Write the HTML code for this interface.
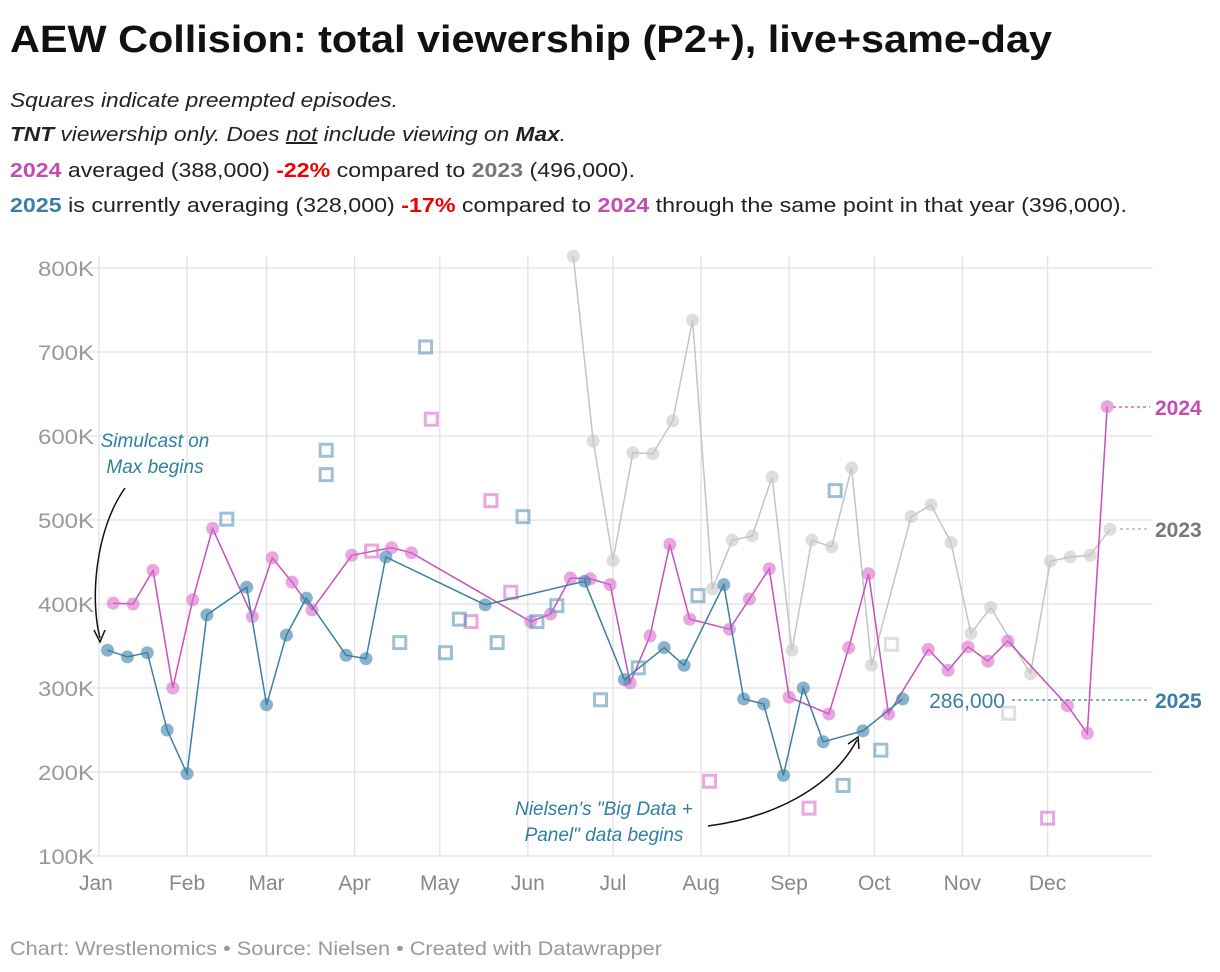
<!DOCTYPE html>
<html><head><meta charset="utf-8"><style>
html,body{margin:0;padding:0;background:#fff;}
svg{display:block;font-family:"Liberation Sans",sans-serif;}
</style></head><body>
<svg id="chart" width="1220" height="972" viewBox="0 0 1220 972">
<text x="10" y="52" font-size="38" font-weight="bold" fill="#111" textLength="1042" lengthAdjust="spacingAndGlyphs">AEW Collision: total viewership (P2+), live+same-day</text>
<g font-size="20" fill="#222">
<text x="10" y="107" font-style="italic" textLength="388" lengthAdjust="spacingAndGlyphs">Squares indicate preempted episodes.</text>
<text x="10" y="141" font-style="italic" textLength="556" lengthAdjust="spacingAndGlyphs"><tspan font-weight="bold">TNT</tspan> viewership only. Does <tspan text-decoration="underline">not</tspan> include viewing on <tspan font-weight="bold">Max</tspan>.</text>
<text x="10" y="177" textLength="625" lengthAdjust="spacingAndGlyphs"><tspan fill="#c44cb5" font-weight="bold">2024</tspan> averaged (388,000) <tspan fill="#e00" font-weight="bold">-22%</tspan> compared to <tspan fill="#777" font-weight="bold">2023</tspan> (496,000).</text>
<text x="10" y="212" textLength="1117" lengthAdjust="spacingAndGlyphs"><tspan fill="#3b7fa6" font-weight="bold">2025</tspan> is currently averaging (328,000) <tspan fill="#e00" font-weight="bold">-17%</tspan> compared to <tspan fill="#c44cb5" font-weight="bold">2024</tspan> through the same point in that year (396,000).</text>
</g>
<g id="grid"></g>
<g id="marks"></g>
<g>
<text x="155" y="447" font-size="19" font-style="italic" fill="#2f7fa6" text-anchor="middle">Simulcast on</text>
<text x="155" y="473" font-size="19" font-style="italic" fill="#2f7fa6" text-anchor="middle">Max begins</text>
<path d="M125,488 C95,530 90,600 100,638" fill="none" stroke="#111" stroke-width="1.5"/>
<path d="M94,630 L100,642 L105,630" fill="none" stroke="#111" stroke-width="1.5"/>
</g>
<g>
<text x="604" y="815" font-size="19" font-style="italic" fill="#2f7fa6" text-anchor="middle">Nielsen's "Big Data +</text>
<text x="604" y="841" font-size="19" font-style="italic" fill="#2f7fa6" text-anchor="middle">Panel" data begins</text>
<path d="M708,826 C770,818 830,790 857,740" fill="none" stroke="#111" stroke-width="1.5"/>
<path d="M848,744 L858,737 L859,749" fill="none" stroke="#111" stroke-width="1.5"/>
</g>
<g font-size="21" font-weight="bold">
<line x1="1113" y1="407" x2="1150" y2="407" stroke="#c44cb5" stroke-dasharray="3,3" stroke-width="1.3"/>
<text x="1155" y="415" fill="#c44cb5">2024</text>
<line x1="1120" y1="529" x2="1150" y2="529" stroke="#aaa" stroke-dasharray="3,3" stroke-width="1.3"/>
<text x="1155" y="537" fill="#777">2023</text>
<line x1="1012" y1="700" x2="1150" y2="700" stroke="#3b7fa6" stroke-dasharray="3,3" stroke-width="1.3"/>
<text x="1155" y="708" fill="#3b7fa6">2025</text>
<text x="1005" y="708" font-weight="normal" fill="#3b7fa6" text-anchor="end">286,000</text>
</g>
<text x="10" y="955" font-size="19" fill="#999" textLength="652" lengthAdjust="spacingAndGlyphs">Chart: Wrestlenomics • Source: Nielsen • Created with Datawrapper</text>
</svg>
<script>
const yTicks=[100,200,300,400,500,600,700,800];
const months=["Jan","Feb","Mar","Apr","May","Jun","Jul","Aug","Sep","Oct","Nov","Dec"];
const monthStartDays=[0,31,59,90,120,151,181,212,243,273,304,334];
const start2023=6, start2024=5, start2025=3;
const w2024=[0,1,2,3,4,5,7,8,9,10,12,14,15,21,22,23,24,25,26,27,28,29,31,32,33,34,36,37,38,39,41,42,43,44,45,48,49,50];
const v2024=[401,400,440,300,405,490,385,455,426,393,458,467,461,379,388,431,430,423,306,362,471,382,370,406,442,289,269,348,436,269,346,321,349,332,356,279,246,635];
const w2024sq=[13,16,18,19,20,30,35,47];
const v2024sq=[463,620,379,523,414,189,157,145];
const w2025=[0,1,2,3,4,5,7,8,9,10,12,13,14,19,24,26,28,29,31,32,33,34,35,36,38,40];
const v2025=[345,337,342,250,198,387,420,280,363,407,339,335,456,399,427,310,348,327,423,287,281,196,300,236,249,287];
const w2025sq=[6,11,11,14.7,16,17,17.7,19.6,20.9,21.6,22.6,24.8,26.7,29.7,36.6,37,38.9];
const v2025sq=[501,554,583,354,706,342,382,354,504,379,398,286,324,410,535,184,226];
const w2023=[23,24,25,26,27,28,29,30,31,32,33,34,35,36,37,38,40,41,42,43,44,46,47,48,49,50];
const v2023=[814,594,452,580,579,618,738,418,476,481,551,345,476,468,562,327,504,518,473,365,396,317,451,456,458,489];
const w2023sq=[39,44.9];
const v2023sq=[352,270];

const NS="http://www.w3.org/2000/svg";
const X0=99, PXD=2.84, PL=78, PR=1153;
function xDay(d){return X0+d*PXD;}
function xW(w,s){return xDay(s+w*7);}
function yV(v){return 856-(v-100)*0.84;}
function mk(tag,attrs,parent){const e=document.createElementNS(NS,tag);for(const k in attrs)e.setAttribute(k,attrs[k]);parent.appendChild(e);return e;}
const grid=document.getElementById('grid'), marks=document.getElementById('marks');
yTicks.forEach(t=>{
  const l=mk('line',{x1:PL,x2:PR,y1:yV(t),y2:yV(t),stroke:'#e2e2e2','stroke-width':1.3},grid);
  
  
  const tx=mk('text',{x:38,y:yV(t)+8,'font-size':21,fill:'#999',textLength:56,lengthAdjust:'spacingAndGlyphs'},grid);
  tx.textContent=t+'K';
  
  
});
months.forEach((m,i)=>{
  const x=xDay(monthStartDays[i]);
  const l=mk('line',{x1:x,x2:x,y1:256,y2:856,stroke:'#e2e2e2','stroke-width':1.3},grid);
  
  
  const tx=mk('text',{x:x,y:890,'font-size':21,fill:'#888','text-anchor':i==0?'start':'middle'},grid);
  if(i==0) tx.setAttribute('x',x-20);
  tx.textContent=m;
  
  
});
function series(ws,vs,s,line,dot,name){
  const pts=ws.map((w,i)=>xW(w,s).toFixed(1)+','+yV(vs[i]).toFixed(1)).join(' ');
  const pl=mk('polyline',{points:pts,fill:'none',stroke:line,'stroke-width':1.5},marks);
  
  
  ws.forEach((w,i)=>{
    const c=mk('circle',{cx:xW(w,s),cy:yV(vs[i]),r:6.5,fill:dot,'fill-opacity':0.6},marks);
    
    
  });
}
function squares(ws,vs,s,col,name){
  ws.forEach((w,i)=>{
    const r=mk('rect',{x:xW(w,s)-6,y:yV(vs[i])-6,width:12,height:12,fill:'none',stroke:col,'stroke-width':3,'stroke-opacity':0.6},marks);
    
    
  });
}
series(w2023,v2023,start2023,'#c4c4c4','#c8c8c8','series-2023');
squares(w2023sq,v2023sq,start2023,'#c8c8c8','series-2023');
series(w2024,v2024,start2024,'#c94fbb','#d96ccc','series-2024');
squares(w2024sq,v2024sq,start2024,'#d96ccc','series-2024');
series(w2025,v2025,start2025,'#3b80a6','#3b80a6','series-2025');
squares(w2025sq,v2025sq,start2025,'#5a97bb','series-2025');
</script>
</body></html>
